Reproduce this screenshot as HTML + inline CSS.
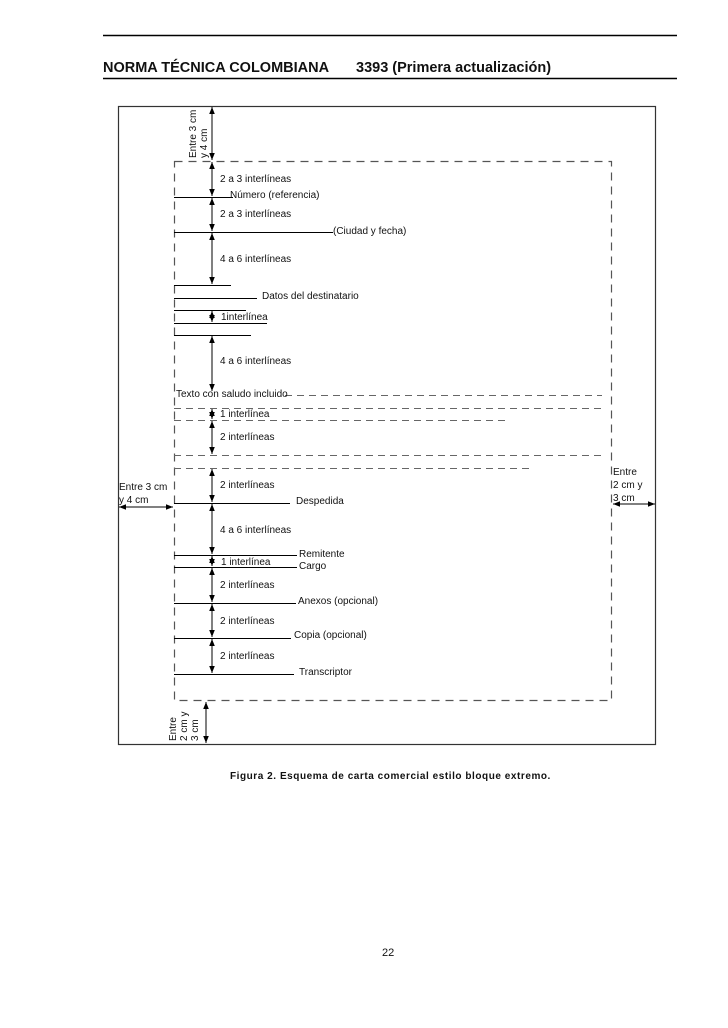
<!DOCTYPE html>
<html><head><meta charset="utf-8"><style>
html,body{margin:0;padding:0;background:#fff;}
svg{display:block;}
text{font-family:"Liberation Sans",sans-serif;fill:#111;}
.s{font-size:10px;}
</style></head><body>
<svg width="728" height="1028" viewBox="0 0 728 1028" xmlns="http://www.w3.org/2000/svg">
<defs>
<marker id="a" viewBox="0 0 10 10" refX="10" refY="5" markerWidth="7" markerHeight="7" orient="auto-start-reverse"><path d="M0,1 L10,5 L0,9 z" fill="#000"/></marker>
</defs>
<line x1="103" y1="35.5" x2="677" y2="35.5" stroke="#000" stroke-width="1.5"/>
<line x1="103" y1="78.5" x2="677" y2="78.5" stroke="#000" stroke-width="1.5"/>
<text x="103" y="72" font-size="14.5" font-weight="bold">NORMA TÉCNICA COLOMBIANA</text>
<text x="356" y="72" font-size="14.5" font-weight="bold">3393 (Primera actualización)</text>

<rect x="118.5" y="106.5" width="537" height="638" fill="none" stroke="#333" stroke-width="1.2"/>
<rect x="174.5" y="161.5" width="437" height="539" fill="none" stroke="#555" stroke-width="1.2" stroke-dasharray="8,6"/>

<g stroke="#000" stroke-width="1" fill="none">
<line x1="212" y1="107" x2="212" y2="160" marker-start="url(#a)" marker-end="url(#a)"/>
<line x1="212" y1="162" x2="212" y2="196" marker-start="url(#a)" marker-end="url(#a)"/>
<line x1="212" y1="198" x2="212" y2="231" marker-start="url(#a)" marker-end="url(#a)"/>
<line x1="212" y1="233" x2="212" y2="284" marker-start="url(#a)" marker-end="url(#a)"/>
<line x1="212" y1="311" x2="212" y2="322" marker-start="url(#a)" marker-end="url(#a)"/>
<line x1="212" y1="336" x2="212" y2="391" marker-start="url(#a)" marker-end="url(#a)"/>
<line x1="212" y1="409" x2="212" y2="419" marker-start="url(#a)" marker-end="url(#a)"/>
<line x1="212" y1="421" x2="212" y2="454" marker-start="url(#a)" marker-end="url(#a)"/>
<line x1="212" y1="469" x2="212" y2="502" marker-start="url(#a)" marker-end="url(#a)"/>
<line x1="212" y1="504" x2="212" y2="554" marker-start="url(#a)" marker-end="url(#a)"/>
<line x1="212" y1="556" x2="212" y2="566" marker-start="url(#a)" marker-end="url(#a)"/>
<line x1="212" y1="568" x2="212" y2="602" marker-start="url(#a)" marker-end="url(#a)"/>
<line x1="212" y1="604" x2="212" y2="637" marker-start="url(#a)" marker-end="url(#a)"/>
<line x1="212" y1="639" x2="212" y2="673" marker-start="url(#a)" marker-end="url(#a)"/>
<line x1="206" y1="702" x2="206" y2="743" marker-start="url(#a)" marker-end="url(#a)"/>
<line x1="119" y1="507" x2="173" y2="507" marker-start="url(#a)" marker-end="url(#a)"/>
<line x1="613" y1="504" x2="655" y2="504" marker-start="url(#a)" marker-end="url(#a)"/>

<line x1="174" y1="197.5" x2="233" y2="197.5"/>
<line x1="174" y1="232.5" x2="333" y2="232.5"/>
<line x1="174" y1="285.5" x2="231" y2="285.5"/>
<line x1="174" y1="298.5" x2="257" y2="298.5"/>
<line x1="174" y1="310.5" x2="246" y2="310.5"/>
<line x1="174" y1="323.5" x2="267" y2="323.5"/>
<line x1="174" y1="335.5" x2="251" y2="335.5"/>
<line x1="174" y1="503.5" x2="290" y2="503.5"/>
<line x1="174" y1="555.5" x2="297" y2="555.5"/>
<line x1="174" y1="567.5" x2="297" y2="567.5"/>
<line x1="174" y1="603.5" x2="296" y2="603.5"/>
<line x1="174" y1="638.5" x2="291" y2="638.5"/>
<line x1="174" y1="674.5" x2="294" y2="674.5"/>
</g>
<g stroke="#666" stroke-width="1" stroke-dasharray="7,5" fill="none">
<line x1="285" y1="395.5" x2="602" y2="395.5"/>
<line x1="174" y1="408.5" x2="602" y2="408.5"/>
<line x1="174" y1="420.5" x2="505" y2="420.5"/>
<line x1="174" y1="455.5" x2="602" y2="455.5"/>
<line x1="174" y1="468.5" x2="532" y2="468.5"/>
</g>

<g class="s">
<text transform="translate(196,158) rotate(-90)">Entre 3 cm</text>
<text transform="translate(207,158) rotate(-90)">y 4 cm</text>
<text x="220" y="182">2 a 3 interlíneas</text>
<text x="230" y="198">Número (referencia)</text>
<text x="220" y="217">2 a 3 interlíneas</text>
<text x="333" y="234">(Ciudad y fecha)</text>
<text x="220" y="262">4 a 6 interlíneas</text>
<text x="262" y="299">Datos del destinatario</text>
<text x="221" y="320">1interlínea</text>
<text x="220" y="364">4 a 6 interlíneas</text>
<text x="176" y="397">Texto con saludo incluido</text>
<text x="220" y="417">1 interlínea</text>
<text x="220" y="440">2 interlíneas</text>
<text x="220" y="488">2 interlíneas</text>
<text x="296" y="504">Despedida</text>
<text x="220" y="533">4 a 6 interlíneas</text>
<text x="299" y="557">Remitente</text>
<text x="221" y="565">1  interlínea</text>
<text x="299" y="569">Cargo</text>
<text x="220" y="588">2 interlíneas</text>
<text x="298" y="604">Anexos (opcional)</text>
<text x="220" y="624">2 interlíneas</text>
<text x="294" y="638">Copia  (opcional)</text>
<text x="220" y="659">2 interlíneas</text>
<text x="299" y="675">Transcriptor</text>
<text x="119" y="490">Entre 3 cm</text>
<text x="119" y="503">y 4 cm</text>
<text x="613" y="475">Entre</text>
<text x="613" y="488">2 cm y</text>
<text x="613" y="501">3 cm</text>
<text transform="translate(176,741) rotate(-90)">Entre</text>
<text transform="translate(187,741) rotate(-90)">2 cm y</text>
<text transform="translate(198,741) rotate(-90)">3 cm</text>
</g>
<text x="230" y="779" font-size="10" font-weight="bold" letter-spacing="0.55">Figura 2. Esquema de carta comercial estilo bloque extremo.</text>
<text x="382" y="956" font-size="11">22</text>
</svg>
</body></html>
